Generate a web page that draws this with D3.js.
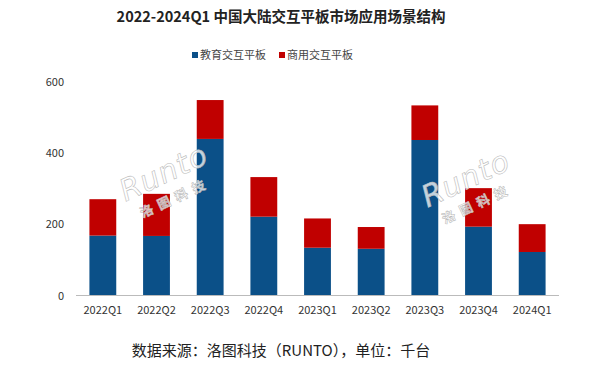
<!DOCTYPE html>
<html><head><meta charset="utf-8">
<script src="https://cdn.jsdelivr.net/npm/d3@7"></script>
<style>body{margin:0;background:#fff}svg{display:block}</style>
</head><body>
<svg id="c" width="590" height="367"></svg>
<script>
const categories = ["2022Q1","2022Q2","2022Q3","2022Q4","2023Q1","2023Q2","2023Q3","2023Q4","2024Q1"];
const education = [168,167,439,221,134,131,436,193,122];
const commercial = [102,118,109,111,82,61,97,108,78];
const seriesNames = ["教育交互平板","商用交互平板"];
const colors = ["#0B5088","#C00000"];
const yTicks = [0,200,400,600];

const svg = d3.select("#c");
const font = "'Microsoft YaHei','Noto Sans CJK SC',sans-serif";
const x = d3.scaleBand().domain(categories).range([76,559]).paddingInner(0.5).paddingOuter(0.25);
const y = d3.scaleLinear().domain([0,600]).range([295.5,81.5]);

const data = categories.map((c,i)=>({c, e:education[i], m:commercial[i]}));
const stack = d3.stack().keys(["e","m"])(data);

svg.append("text").attr("x",281).attr("y",22).attr("text-anchor","middle")
  .attr("font-family",font).attr("font-weight","bold").attr("font-size",14.5).attr("fill","#222")
  .text("2022-2024Q1 中国大陆交互平板市场应用场景结构");

// legend
const lg = [{x:192,t:seriesNames[0],c:colors[0]},{x:279,t:seriesNames[1],c:colors[1]}];
lg.forEach(d=>{
  svg.append("rect").attr("x",d.x).attr("y",52).attr("width",6).attr("height",6).attr("fill",d.c);
  svg.append("text").attr("x",d.x+8).attr("y",59).attr("font-family",font).attr("font-size",11).attr("fill","#444").text(d.t);
});

// bars
svg.append("g").selectAll("g").data(stack).join("g").attr("fill",(d,i)=>colors[i])
  .selectAll("rect").data(d=>d).join("rect")
  .attr("x",d=>x(d.data.c)).attr("width",x.bandwidth())
  .attr("y",d=>y(d[1])).attr("height",d=>y(d[0])-y(d[1]));

// y axis
const ya = svg.append("g").attr("transform","translate(64,0)")
  .call(d3.axisLeft(y).tickValues(yTicks).tickSize(0).tickPadding(0));
ya.select(".domain").remove();
ya.selectAll("text").attr("font-family",font).attr("font-size",11).attr("fill","#333");

// x axis
const xa = svg.append("g").attr("transform","translate(0,295.5)")
  .call(d3.axisBottom(x).tickSize(0).tickPadding(11));
xa.select(".domain").attr("stroke","#bbb").attr("d","M76,0H559");
xa.selectAll("text").attr("font-family",font).attr("font-size",11).attr("fill","#333");

// watermark
function wm(cx,cy){
  const g = svg.append("g").attr("transform",`translate(${cx},${cy}) rotate(-25)`)
    .attr("fill","#fff").attr("fill-opacity",0.75).attr("stroke","#bbb").attr("stroke-width",0.6);
  g.append("text").attr("x",0).attr("y",0).attr("text-anchor","middle").attr("font-family","'DejaVu Sans',sans-serif")
    .attr("font-style","italic").attr("font-size",30).attr("letter-spacing",1).text("Runto");
  g.append("text").attr("x",0).attr("y",22).attr("text-anchor","middle").attr("font-family",font)
    .attr("font-weight","bold").attr("font-size",13).attr("letter-spacing",6).text("洛图科技");
}
wm(168,182);
wm(470,188);

svg.append("text").attr("x",281).attr("y",356).attr("text-anchor","middle")
  .attr("font-family",font).attr("font-size",15).attr("fill","#222")
  .text("数据来源：洛图科技（RUNTO），单位：千台");
</script>
</body></html>
